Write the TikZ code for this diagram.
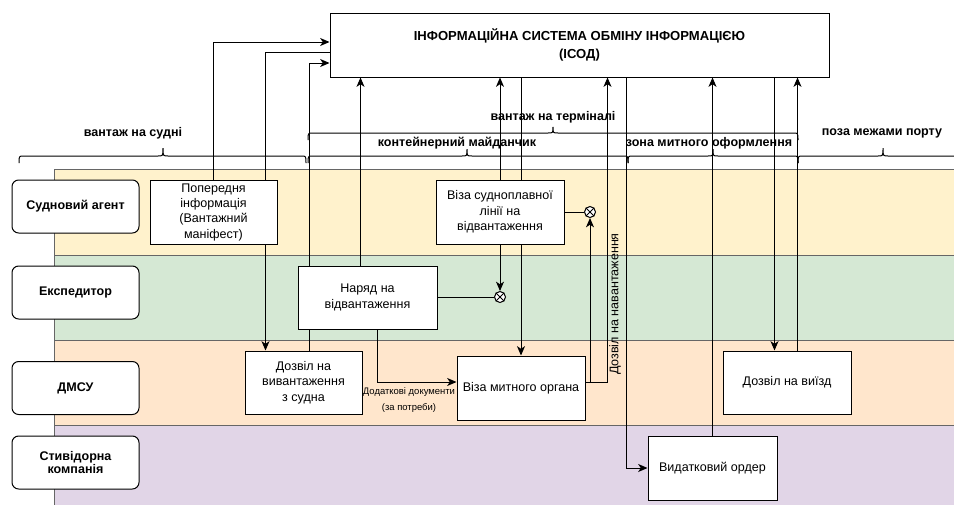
\documentclass[tikz,border=0pt]{standalone}
\usepackage{fontspec}
\setmainfont{Liberation Sans}
\usetikzlibrary{arrows.meta,calc}
\definecolor{laneY}{HTML}{FFF2CC}
\definecolor{laneG}{HTML}{D5E8D4}
\definecolor{laneO}{HTML}{FFE6CC}
\definecolor{laneP}{HTML}{E1D5E7}
\definecolor{laneline}{HTML}{666666}
\pgfdeclarelayer{lanes}
\pgfdeclarelayer{edges}
\pgfsetlayers{lanes,edges,main}
\newcommand\zbrace[5]{%
  \draw[bracestyle] (#1,#4+7) .. controls (#1,#4) .. (#1+5,#4) -- (#3-5,#4)
    .. controls (#3,#4) .. (#3,#4-#5) .. controls (#3,#4) .. (#3+5,#4)
    -- (#2-5,#4) .. controls (#2,#4) .. (#2,#4+7);}
\begin{document}
\begin{tikzpicture}[x=0.75pt,y=-0.75pt,
  every node/.style={font=\fontsize{9.4}{11.5}\selectfont},
  proc/.style={draw, fill=white, line width=0.75pt, align=center, inner sep=2pt},
  lanelbl/.style={draw, fill=white, rounded corners=5pt, line width=0.75pt, align=center,
    minimum width=95.25pt, minimum height=39.75pt, font=\fontsize{9.4}{10.2}\selectfont\bfseries},
  conn/.style={line width=0.75pt},
  arr/.style={conn, -{Stealth[length=7pt,width=6pt,inset=2pt]}},
  gate/.style={circle, draw, fill=white, inner sep=0pt, minimum size=8.25pt, line width=0.75pt},
  zone/.style={font=\fontsize{9.4}{11}\selectfont\bfseries, inner sep=0pt},
  small/.style={font=\fontsize{7.1}{8}\selectfont, inner sep=0pt},
  bracestyle/.style={line width=0.75pt},
  lane/.style={draw=laneline, line width=0.75pt},
]
\useasboundingbox (0,0) rectangle (954,504);

% lanes
\begin{pgfonlayer}{lanes}
\fill[laneY] (54,169.5) rectangle (958,255);
\fill[laneG] (54,255) rectangle (958,340);
\fill[laneO] (54,340) rectangle (958,425);
\fill[laneP] (54,425) rectangle (958,508);
\draw[lane] (54,169.5) -- (958,169.5);
\draw[lane] (54,255) -- (958,255);
\draw[lane] (54,340) -- (958,340);
\draw[lane] (54,425) -- (958,425);
\draw[lane] (54,169.5) -- (54,508);
\end{pgfonlayer}

% main system box
\node[proc, minimum width=374.25pt, minimum height=48pt,
  font=\fontsize{9.8}{13.5}\selectfont\bfseries] (isod) at (579.5,45)
  {ІНФОРМАЦІЙНА СИСТЕМА ОБМІНУ ІНФОРМАЦІЄЮ\\(ІСОД)};

% lane labels
\node[lanelbl] (l1) at (75.5,206.5) {Судновий агент};
\node[lanelbl] (l2) at (75.5,292.5) {Експедитор};
\node[lanelbl] (l3) at (75.5,388) {ДМСУ};
\node[lanelbl] (l4) at (75.5,462.5) {Стивідорна\\компанія};

% process boxes
\node[proc, minimum width=95.25pt, minimum height=48pt] (pi) at (213.5,212)
  {Попередня\\інформація\\(Вантажний\\маніфест)};
\node[proc, minimum width=96pt, minimum height=48pt] (vsl) at (500,212)
  {Віза судноплавної\\лінії на\\відвантаження};
\node[proc, minimum width=104.25pt, minimum height=47.25pt] (nar) at (367.5,297.5)
  {Наряд на\\відвантаження};
\node[proc, minimum width=87.75pt, minimum height=47.25pt] (dvv) at (303.5,382.5)
  {Дозвіл на\\вивантаження\\з судна};
\node[proc, minimum width=96pt, minimum height=48pt] (vmo) at (521,388)
  {Віза митного органа};
\node[proc, minimum width=96pt, minimum height=47.25pt] (dvz) at (787,382.5)
  {Дозвіл на виїзд};
\node[proc, minimum width=96.75pt, minimum height=48pt] (vo) at (712.5,468)
  {Видатковий ордер};

% gateways
\node[gate] (g1) at (590,212) {};
\node[gate] (g2) at (500,297) {};
\draw[conn] (g1.45) -- (g1.225) (g1.135) -- (g1.315);
\draw[conn] (g2.45) -- (g2.225) (g2.135) -- (g2.315);

% connectors
\begin{pgfonlayer}{edges}
\draw[arr] (pi.north) |- ($(isod.west)+(0,-3)$);
\draw[arr] ($(isod.west)+(0,7.5)$) -| ($(dvv.north west)+(21,0)$);
\draw[arr] ($(dvv.north)+(5.5,0)$) |- ($(isod.west)+(0,18)$);
\coordinate (n1) at ($(nar.north west)+(63,0)$);
\draw[arr] (n1) -- (n1 |- isod.south);
\draw[arr] ($(nar.south west)+(80,0)$) |- ($(vmo.west)+(0,-6)$);
\draw[conn] (g2 -| nar.east) -- (g2);
\draw[arr] (vsl.south) -- (g2);
\draw[conn] (vsl.east) -- (g1);
\coordinate (v1) at ($(vmo.east)+(0,-6)$);
\draw[arr] (v1) -| (g1);
\coordinate (d1) at ($(vmo.east)+(22,-6)$);
\draw[arr] (v1) -- (d1) -- (d1 |- isod.south)
  node[pos=0.256, rotate=90, anchor=north, inner sep=1pt] (lbl) {Дозвіл на навантаження};
\coordinate (i1) at ($(isod.south west)+(297,0)$);
\draw[arr] (i1) |- (vo.west);
\draw[arr] (vo.north) -- (vo.north |- isod.south);
\coordinate (z1) at ($(dvz.north west)+(52,0)$);
\draw[arr] (z1 |- isod.south) -- (z1);
\coordinate (z2) at ($(dvz.north west)+(75,0)$);
\draw[arr] (z2) -- (z2 |- isod.south);
\draw[arr] (vmo.north |- isod.south) -- (vmo.north);
\draw[arr] (vsl.north) -- (vsl.north |- isod.south);
\end{pgfonlayer}

\node[small] (dd1) at (409,392) {Додаткові документи};
\node[small] (dd2) at (409,408) {(за потреби)};

% zone braces
\zbrace{19}{306}{163}{156}{8}
\zbrace{308}{798}{553}{133}{6}
\zbrace{308}{628}{467}{156}{7}
\zbrace{628}{798}{713}{156}{7}
\zbrace{798}{962}{883}{156}{8}

\node[zone] (zs) at (133,133) {вантаж на судні};
\node[zone] (zt) at (553,117) {вантаж на терміналі};
\node[zone] (zk) at (457,143) {контейнерний майданчик};
\node[zone] (zm) at (709,143) {зона митного оформлення};
\node[zone] (zp) at (882,133) {поза межами порту};
\end{tikzpicture}
\end{document}
